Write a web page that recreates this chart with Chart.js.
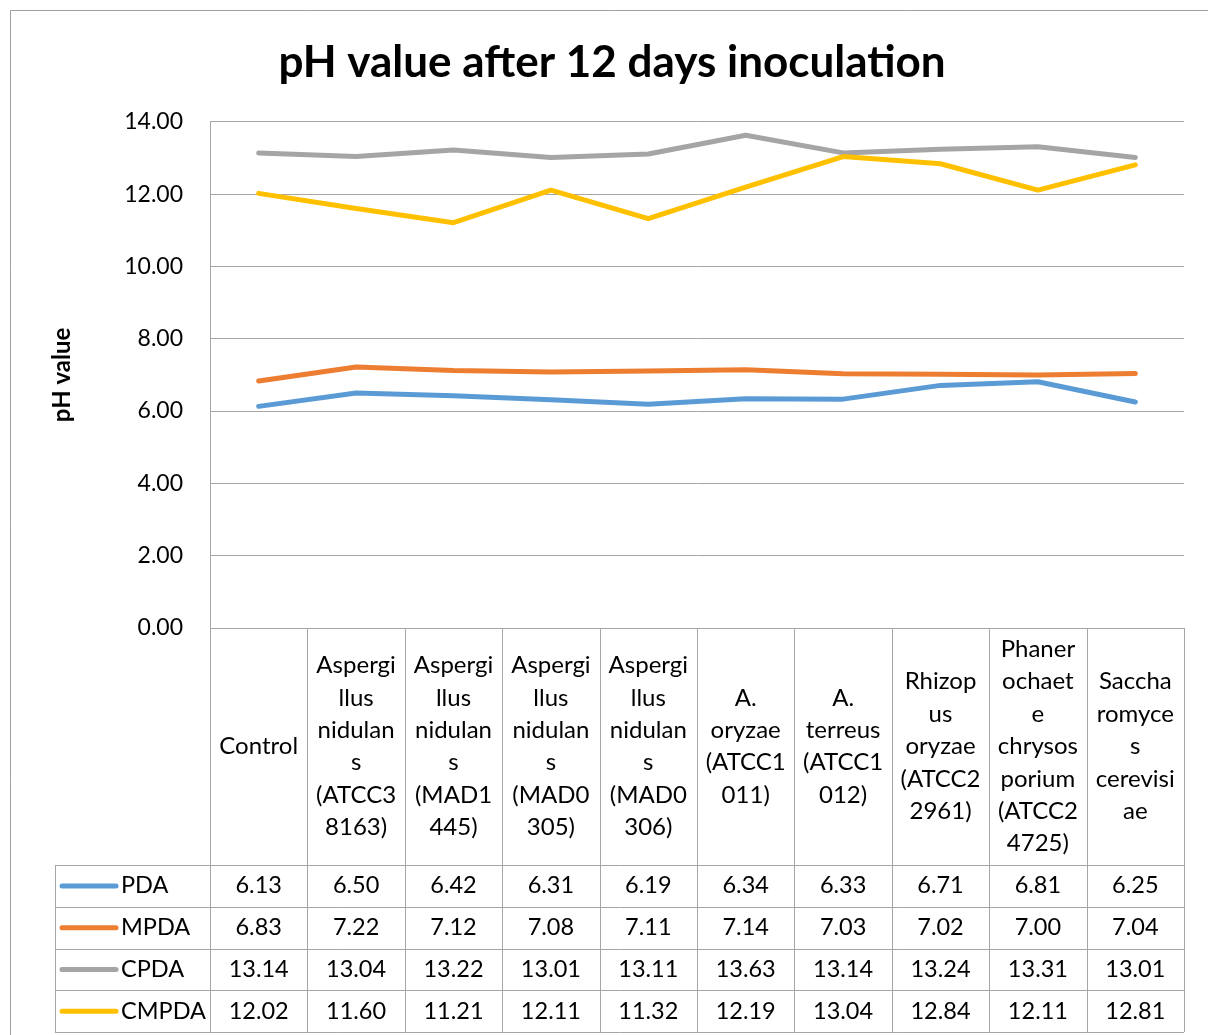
<!DOCTYPE html>
<html>
<head>
<meta charset="utf-8">
<script src="https://cdn.jsdelivr.net/npm/chart.js@4.4.1/dist/chart.umd.min.js"></script>
<style>
  html, body { margin: 0; padding: 0; background: #fff; }
  #wrap { width: 1208px; height: 1035px; position: relative; }
</style>
</head>
<body>
<div id="wrap"><canvas id="phChart" width="1208" height="1035"></canvas></div>
<script>
// categories, wrapped the way the table header shows them
const categories = [
    ['Control'],
    ['Aspergi', 'llus', 'nidulan', 's', '(ATCC3', '8163)'],
    ['Aspergi', 'llus', 'nidulan', 's', '(MAD1', '445)'],
    ['Aspergi', 'llus', 'nidulan', 's', '(MAD0', '305)'],
    ['Aspergi', 'llus', 'nidulan', 's', '(MAD0', '306)'],
    ['A.', 'oryzae', '(ATCC1', '011)'],
    ['A.', 'terreus', '(ATCC1', '012)'],
    ['Rhizop', 'us', 'oryzae', '(ATCC2', '2961)'],
    ['Phaner', 'ochaet', 'e', 'chrysos', 'porium', '(ATCC2', '4725)'],
    ['Saccha', 'romyce', 's', 'cerevisi', 'ae']
];

const seriesNames = ['PDA', 'MPDA', 'CPDA', 'CMPDA'];
const pdaValues   = [6.13, 6.50, 6.42, 6.31, 6.19, 6.34, 6.33, 6.71, 6.81, 6.25];
const mpdaValues  = [6.83, 7.22, 7.12, 7.08, 7.11, 7.14, 7.03, 7.02, 7.00, 7.04];
const cpdaValues  = [13.14, 13.04, 13.22, 13.01, 13.11, 13.63, 13.14, 13.24, 13.31, 13.01];
const cmpdaValues = [12.02, 11.60, 11.21, 12.11, 11.32, 12.19, 13.04, 12.84, 12.11, 12.81];
const yTicks = [0, 2, 4, 6, 8, 10, 12, 14];

const seriesColors = ['#5B9BD5', '#ED7D31', '#A5A5A5', '#FFC000'];
const allValues = [pdaValues, mpdaValues, cpdaValues, cmpdaValues];

const FONT = "Lato, 'Open Sans', sans-serif";
const GRID = '#A6A6A6';

// data table drawn under the plot, columns taken from the x scale
const dataTablePlugin = {
    id: 'dataTable',
    afterDraw(chart) {
        const ctx = chart.ctx;
        const area = chart.chartArea;
        const xScale = chart.scales.x;
        const n = categories.length;
        const colW = (area.right - area.left) / n;
        const headTop = area.bottom;
        const headBottom = 865;
        const rowH = 41.75;
        const tableBottom = headBottom + rowH * seriesNames.length;
        const legendLeft = 55;

        ctx.save();
        ctx.strokeStyle = GRID;
        ctx.lineWidth = 1;
        ctx.beginPath();
        for (let i = 0; i <= n; i++) {
            const x = Math.round(area.left + i * colW) + 0.5;
            ctx.moveTo(x, headTop);
            ctx.lineTo(x, tableBottom);
        }
        for (let r = 0; r <= seriesNames.length; r++) {
            const y = Math.round(headBottom + r * rowH) + 0.5;
            ctx.moveTo(legendLeft, y);
            ctx.lineTo(area.right, y);
        }
        ctx.moveTo(legendLeft + 0.5, headBottom);
        ctx.lineTo(legendLeft + 0.5, tableBottom);
        ctx.stroke();

        // header labels
        ctx.fillStyle = '#000';
        ctx.font = '24px ' + FONT;
        ctx.textAlign = 'center';
        ctx.textBaseline = 'middle';
        const lineH = 32.4;
        const midHead = (headTop + headBottom) / 2;
        categories.forEach((lines, i) => {
            const cx = xScale.getPixelForValue(i);
            const y0 = midHead - (lines.length - 1) * lineH / 2;
            lines.forEach((t, k) => ctx.fillText(t, cx, y0 + k * lineH));
        });

        // rows
        ctx.font = '23.5px ' + FONT;
        seriesNames.forEach((name, r) => {
            const cy = headBottom + r * rowH + rowH / 2;
            ctx.strokeStyle = seriesColors[r];
            ctx.lineWidth = 5;
            ctx.lineCap = 'round';
            ctx.beginPath();
            ctx.moveTo(62, cy);
            ctx.lineTo(116, cy);
            ctx.stroke();
            ctx.textAlign = 'left';
            ctx.fillText(name, 121, cy);
            ctx.textAlign = 'center';
            allValues[r].forEach((v, i) => {
                ctx.fillText(v.toFixed(2), xScale.getPixelForValue(i), cy);
            });
        });

        // outer chart border (cropped at right and bottom)
        ctx.strokeStyle = '#A0A0A0';
        ctx.lineWidth = 1;
        ctx.beginPath();
        ctx.moveTo(10.5, 1040);
        ctx.lineTo(10.5, 10.5);
        ctx.lineTo(1210, 10.5);
        ctx.stroke();
        ctx.restore();
    }
};

const ctx = document.getElementById('phChart').getContext('2d');
new Chart(ctx, {
    type: 'line',
    data: {
        labels: categories.map(c => c.join(' ')),
        datasets: seriesNames.map((name, i) => ({
            label: name,
            data: allValues[i],
            borderColor: seriesColors[i],
            backgroundColor: seriesColors[i],
            borderWidth: 5,
            borderCapStyle: 'round',
            borderJoinStyle: 'round',
            pointRadius: 0,
            tension: 0,
            order: seriesNames.length - 1 - i
        }))
    },
    options: {
        responsive: false,
        animation: false,
        layout: { padding: { left: 40, right: 24, top: 28, bottom: 407 } },
        plugins: {
            legend: { display: false },
            tooltip: { enabled: false },
            title: {
                display: true,
                text: 'pH value after 12 days inoculation',
                color: '#000',
                font: { family: FONT, size: 44, weight: 'bold' },
                padding: { top: 8, bottom: 33 }
            }
        },
        scales: {
            x: {
                type: 'category',
                offset: true,
                display: false
            },
            y: {
                min: 0,
                max: 14,
                afterBuildTicks: (scale) => { scale.ticks = yTicks.map(v => ({ value: v })); },
                afterFit: (scale) => { scale.width = 170; },
                ticks: {
                    padding: 27,
                    color: '#000',
                    font: { family: FONT, size: 23 },
                    callback: (v) => Number(v).toFixed(2)
                },
                grid: { color: GRID, lineWidth: 1, drawTicks: false },
                border: { display: true, color: GRID, width: 1 },
                title: {
                    display: true,
                    text: 'pH value',
                    color: '#000',
                    font: { family: FONT, size: 24, weight: 'bold' },
                    padding: { top: 8, bottom: 0 }
                }
            }
        }
    },
    plugins: [dataTablePlugin]
});
</script>
</body>
</html>
